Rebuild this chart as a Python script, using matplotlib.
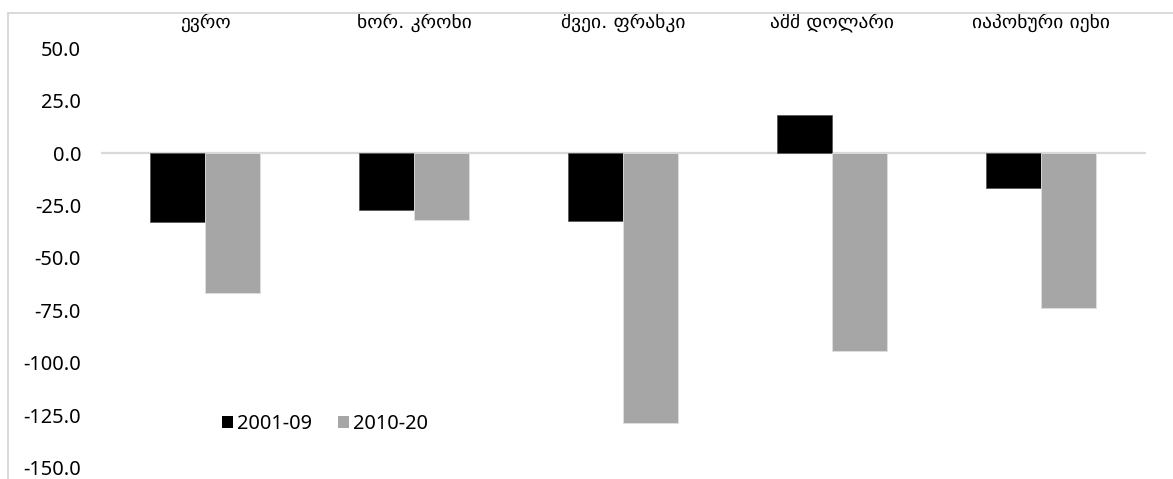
import matplotlib
matplotlib.use("Agg")
import matplotlib.pyplot as plt
from matplotlib.lines import Line2D
from matplotlib.patches import Patch
import numpy as np

plt.rcParams['font.family'] = ['Noto Sans', 'DejaVu Sans']

# Currencies
categories = ["ევრო", "ნორ. კრონი", "შვეი. ფრანკი", "აშშ დოლარი", "იაპონური იენი"]
series_names = ["2001-09", "2010-20"]
values_2001_09 = [-32.9, -27.0, -32.4, 18.3, -16.7]
values_2010_20 = [-66.5, -31.7, -128.6, -94.6, -73.9]
y_ticks = [50, 25, 0, -25, -50, -75, -100, -125, -150]
y_tick_labels = ["50.0", "25.0", "0.0", "-25.0", "-50.0", "-75.0", "-100.0", "-125.0", "-150.0"]

W, H = 1173, 479
fig = plt.figure(figsize=(W / 100, H / 100), dpi=100)
fig.patch.set_facecolor("white")

# plot area in pixels
left_px, right_px = 100.5, 1146.0
top_px = 48.4
ax = fig.add_axes([left_px / W, 0.0, (right_px - left_px) / W, 1 - top_px / H])

x = np.arange(len(categories))
bw = 0.263
ax.bar(x - bw / 2, values_2001_09, width=bw, color="#000000",
       edgecolor="#595959", linewidth=0.6, label=series_names[0], zorder=3)
ax.bar(x + bw / 2, values_2010_20, width=bw, color="#a6a6a6",
       edgecolor="#e0e0e0", linewidth=0.6, label=series_names[1], zorder=3)

ax.set_xlim(-0.5, len(categories) - 0.5)
ax.set_ylim(-155.5, 50)

# zero line acting as category axis
ax.axhline(0, color="#d9d9d9", linewidth=1.6, zorder=2)

for s in ax.spines.values():
    s.set_visible(False)

ax.xaxis.tick_top()
ax.set_xticks(x)
ax.set_xticklabels(categories, fontsize=14, family=['DejaVu Sans'])
ax.tick_params(axis="x", length=0, pad=12)

ax.set_yticks(y_ticks)
ax.set_yticklabels(y_tick_labels, fontsize=14.4)
ax.tick_params(axis="y", length=0, pad=14)

handles = [Patch(facecolor="#000000", edgecolor="none"),
           Patch(facecolor="#a6a6a6", edgecolor="none")]
leg = fig.legend(handles, series_names, loc="center left",
                 bbox_to_anchor=(222 / W, 1 - 424 / H), ncol=2, frameon=False,
                 prop={'size': 14.4}, handlelength=0.55, handleheight=0.55,
                 handletextpad=0.2, columnspacing=1.3, borderaxespad=0,
                 borderpad=0)

# chart frame edges
fig.add_artist(Line2D([7.5 / W, 7.5 / W], [0, 1 - 13.3 / H],
                      transform=fig.transFigure, color="#d9d9d9", linewidth=1.4))
fig.add_artist(Line2D([7.5 / W, 1.0], [1 - 13.3 / H, 1 - 13.3 / H],
                      transform=fig.transFigure, color="#d9d9d9", linewidth=1.4))

fig.savefig("out.png", dpi=100, facecolor="white")
